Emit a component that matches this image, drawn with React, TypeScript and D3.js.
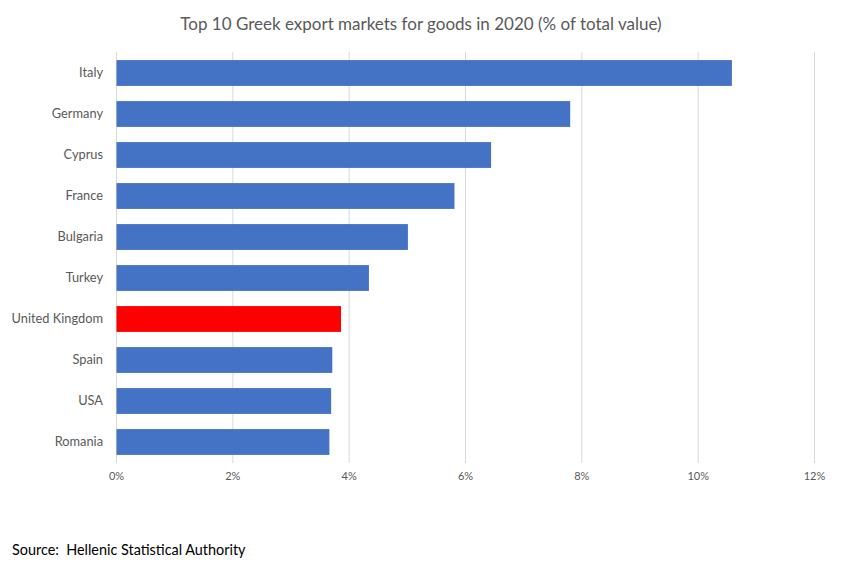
import { useEffect, useRef } from 'react';
import * as d3 from 'd3';

const countries = ['Italy', 'Germany', 'Cyprus', 'France', 'Bulgaria', 'Turkey', 'United Kingdom', 'Spain', 'USA', 'Romania'];
const shares = [10.58, 7.8, 6.44, 5.81, 5.01, 4.34, 3.86, 3.71, 3.69, 3.66];
const xTicks = [0, 2, 4, 6, 8, 10, 12];
const highlight = 'United Kingdom';

export default function App() {
  const svgRef = useRef<SVGSVGElement>(null);

  useEffect(() => {
    const svg = d3.select(svgRef.current);
    svg.selectAll('*').remove();

    const W = 845, H = 567;
    const font = 'Lato, "Open Sans", sans-serif';
    const grey = '#595959';

    svg.attr('width', W).attr('height', H).attr('viewBox', `0 0 ${W} ${H}`);
    svg.append('rect').attr('width', W).attr('height', H).attr('fill', '#fff');

    const x = d3.scaleLinear().domain([0, 12]).range([116.5, 814.5]);
    const y = d3.scaleBand<string>().domain(countries).range([52.5, 462.5]).paddingInner(0.37).paddingOuter(0.185);

    // Title
    svg.append('text').attr('x', 421).attr('y', 30)
      .attr('text-anchor', 'middle').attr('font-size', 17).attr('fill', grey)
      .attr('font-family', font)
      .text('Top 10 Greek export markets for goods in 2020 (% of total value)');

    // Gridlines
    svg.append('g').selectAll('line').data(xTicks).join('line')
      .attr('x1', d => x(d)).attr('x2', d => x(d))
      .attr('y1', 52).attr('y2', 463)
      .attr('stroke', '#d9d9d9').attr('stroke-width', 1);

    // Bars
    const data = countries.map((c, i) => ({ c, v: shares[i] }));
    svg.append('g').selectAll('rect').data(data).join('rect')
      .attr('x', x(0)).attr('y', d => y(d.c)!)
      .attr('width', d => x(d.v) - x(0)).attr('height', y.bandwidth())
      .attr('fill', d => d.c === highlight ? '#ff0000' : '#4472c4');

    // Category labels
    svg.append('g').selectAll('text').data(countries).join('text')
      .attr('x', 103).attr('y', d => y(d)! + y.bandwidth() / 2)
      .attr('dy', '0.35em').attr('text-anchor', 'end')
      .attr('font-size', 12.8).attr('fill', grey).attr('font-family', font)
      .text(d => d);

    // Tick labels
    svg.append('g').selectAll('text').data(xTicks).join('text')
      .attr('x', d => x(d)).attr('y', 480)
      .attr('text-anchor', 'middle')
      .attr('font-size', 11).attr('fill', grey).attr('font-family', font)
      .text(d => `${d}%`);

    // Source
    svg.append('text').attr('x', 12).attr('y', 555)
      .attr('font-size', 14.4).attr('fill', '#000').attr('font-family', font)
      .attr('xml:space', 'preserve')
      .text('Source:  Hellenic Statistical Authority');
  }, []);

  return (
    <div style={{ position: 'absolute', left: 0, top: 0 }}>
      <svg ref={svgRef} style={{ display: 'block' }} />
    </div>
  );
}
